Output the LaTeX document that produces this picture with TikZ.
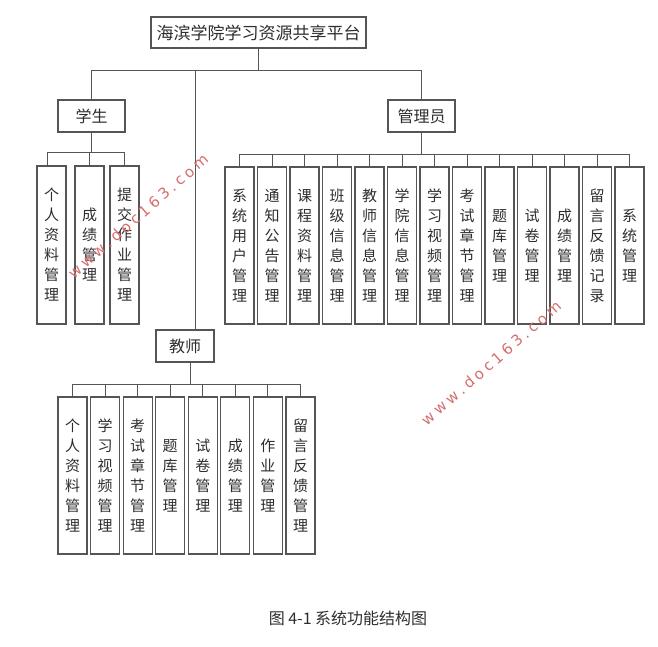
\documentclass[tikz,border=0pt]{standalone}
\usepackage{fontspec}
\newfontfamily\cjk{Noto Sans CJK SC}
\newfontfamily\wmf{DejaVu Sans}
\definecolor{wmred}{RGB}{214,110,110}
\definecolor{lncol}{RGB}{85,85,85}
\definecolor{txtcol}{RGB}{45,45,45}
\tikzset{
  ln/.style={draw=lncol, line width=1pt},
  box/.style={draw=lncol, line width=1.1pt, inner sep=0pt, text=txtcol, align=center,
              font=\cjk\fontsize{15}{20}\selectfont},
  head/.style={box, minimum width=67pt, minimum height=32pt, font=\cjk\fontsize{16}{18}\selectfont},
  leaf/.style={box, minimum width=29pt, minimum height=157pt},
  wm/.style={text=wmred, font=\wmf\fontsize{15}{15}\selectfont, inner sep=0pt},
}
\newcommand{\wmtext}{w\kern3.5pt w\kern3.5pt w\kern3.5pt .\kern3.5pt d\kern3.5pt o\kern3.5pt c\kern3.5pt 1\kern3.5pt 6\kern3.5pt 3\kern3.5pt .\kern3.5pt c\kern3.5pt o\kern3.5pt m}
\begin{document}
\begin{tikzpicture}[x=1pt,y=-1pt]
\useasboundingbox (0,0) rectangle (658,647);
\coordinate (bus) at (0,71);
\coordinate (sbus) at (0,153);
\coordinate (abus) at (0,155);
\coordinate (tbus) at (0,384);

% top
\node[box, minimum width=215pt, minimum height=31pt, font=\cjk\fontsize{17}{20}\selectfont] (top) at (258.5,32.5) {海滨学院学习资源共享平台};
\node[head] (stu) at (91.5,116) {学生};
\node[head] (adm) at (421.5,116) {管理员};
\node[head, minimum width=58pt] (tea) at (185,346) {教师};

\draw[ln] (top.south) -- (top.south |- bus);
\draw[ln] (stu.north) -- (stu.north |- bus) -| (adm.north);
\draw[ln] ([xshift=10pt]tea.north) -- ([xshift=10pt]tea.north |- bus);

% student leaves
\node[leaf, minimum height=158pt] (s1) at (51.5,245) {个\\人\\资\\料\\管\\理};
\node[leaf, minimum height=158pt] (s2) at (89.5,245) {成\\绩\\管\\理};
\node[leaf, minimum height=158pt] (s3) at (124.5,245) {提\\交\\作\\业\\管\\理};
\draw[ln] (stu.south) -- (stu.south |- sbus);
\draw[ln] ([xshift=-4pt]s1.north) -- ([xshift=-4pt]s1.north |- sbus) -| (s3.north);
\draw[ln] (s2.north) -- (s2.north |- sbus);

% admin leaves
\node[leaf] (a1) at (239.5,245.5) {系\\统\\用\\户\\管\\理};
\node[leaf] (a2) at (272,245.5) {通\\知\\公\\告\\管\\理};
\node[leaf] (a3) at (304.5,245.5) {课\\程\\资\\料\\管\\理};
\node[leaf] (a4) at (337,245.5) {班\\级\\信\\息\\管\\理};
\node[leaf] (a5) at (369.5,245.5) {教\\师\\信\\息\\管\\理};
\node[leaf] (a6) at (402,245.5) {学\\院\\信\\息\\管\\理};
\node[leaf] (a7) at (434.5,245.5) {学\\习\\视\\频\\管\\理};
\node[leaf] (a8) at (467,245.5) {考\\试\\章\\节\\管\\理};
\node[leaf] (a9) at (499.5,245.5) {题\\库\\管\\理};
\node[leaf] (a10) at (532,245.5) {试\\卷\\管\\理};
\node[leaf] (a11) at (564.5,245.5) {成\\绩\\管\\理};
\node[leaf] (a12) at (597,245.5) {留\\言\\反\\馈\\记\\录};
\node[leaf] (a13) at (629.5,245.5) {系\\统\\管\\理};
\draw[ln] (adm.south) -- (adm.south |- abus);
\draw[ln] (a1.north) -- (a1.north |- abus) -| (a13.north);
\foreach \i in {2,...,12} \draw[ln] (a\i.north) -- (a\i.north |- abus);

% teacher leaves
\node[leaf] (t1) at (72.5,475.5) {个\\人\\资\\料\\管\\理};
\node[leaf] (t2) at (105.1,475.5) {学\\习\\视\\频\\管\\理};
\node[leaf] (t3) at (137.6,475.5) {考\\试\\章\\节\\管\\理};
\node[leaf] (t4) at (170.2,475.5) {题\\库\\管\\理};
\node[leaf] (t5) at (202.8,475.5) {试\\卷\\管\\理};
\node[leaf] (t6) at (235.4,475.5) {成\\绩\\管\\理};
\node[leaf] (t7) at (267.9,475.5) {作\\业\\管\\理};
\node[leaf] (t8) at (300.5,475.5) {留\\言\\反\\馈\\管\\理};
\draw[ln] ([xshift=5pt]tea.south) -- ([xshift=5pt]tea.south |- tbus);
\draw[ln] (t1.north) -- (t1.north |- tbus) -| (t8.north);
\foreach \i in {2,...,7} \draw[ln] (t\i.north) -- (t\i.north |- tbus);

% caption
\node[text=txtcol, font=\cjk\fontsize{16}{18}\selectfont] (cap) at (348,618) {图 4-1 系统功能结构图};

% watermarks
\node[wm, rotate=41] (w1) at (138,216) {\wmtext};
\node[wm, rotate=41] (w2) at (491,363) {\wmtext};
\end{tikzpicture}
\end{document}
